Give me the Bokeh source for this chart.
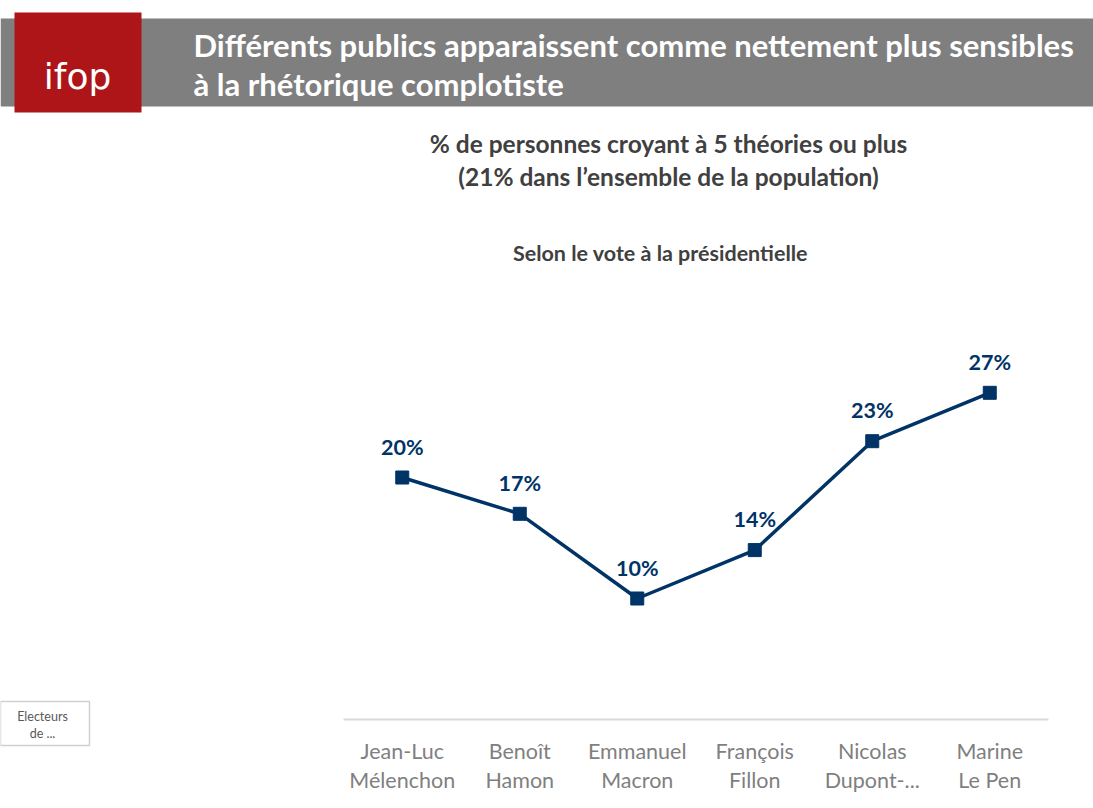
from bokeh.plotting import figure
from bokeh.models import Range1d, FactorRange
from bokeh.layouts import column, row
from bokeh.core.properties import value
from bokeh.embed import file_html
from bokeh.resources import INLINE

# ---- data ----
categories = ["Jean-Luc\nMélenchon", "Benoît\nHamon", "Emmanuel\nMacron",
              "François\nFillon", "Nicolas\nDupont-...", "Marine\nLe Pen"]
values = [20, 17, 10, 14, 23, 27]
value_labels = ["20%", "17%", "10%", "14%", "23%", "27%"]

title_lines = ["Différents publics apparaissent comme nettement plus sensibles",
               "à la rhétorique complotiste"]
subtitle_lines = ["% de personnes croyant à 5 théories ou plus",
                  "(21% dans l’ensemble de la population)"]
section_title = "Selon le vote à la présidentielle"
box_lines = ["Electeurs", "de ..."]

NAVY = "#003366"
FONT = "Lato"
W, H = 1093, 808
HEAD_H = 290
LEFT_W = 343


def blank(width, height):
    f = figure(width=width, height=height, output_backend="svg", toolbar_location=None,
               x_range=Range1d(0, width), y_range=Range1d(height, 0),
               x_axis_location=None, y_axis_location=None, min_border=0)
    f.outline_line_color = None
    f.xgrid.visible = False
    f.ygrid.visible = False
    f.background_fill_color = "white"
    f.border_fill_color = "white"
    return f


# ---- header ----
head = blank(W, HEAD_H)
head.quad(left=[0], right=[W], top=[18], bottom=[106], fill_color="#7f7f7f", line_color=None)
head.quad(left=[14], right=[141], top=[12], bottom=[112], fill_color="#ad1518", line_color=None)
head.text([77], [76], text=["ifop"], text_align="center", text_baseline="alphabetic",
          text_color="white", text_font=value("DejaVu Sans ExtraLight, DejaVu Sans"),
          text_font_size="36px")
head.text([193, 193], [44, 83], text=title_lines, text_align="left", text_baseline="middle",
          text_color="white", text_font=value(FONT), text_font_style="bold",
          text_font_size="31px")
head.text([668, 668], [143, 176], text=subtitle_lines, text_align="center",
          text_baseline="middle", text_color="#404040", text_font=value(FONT),
          text_font_style="bold", text_font_size="24.5px")
head.text([660], [252], text=[section_title], text_align="center", text_baseline="middle",
          text_color="#404040", text_font=value(FONT), text_font_style="bold",
          text_font_size="21.5px")

# ---- left panel ----
left = blank(LEFT_W, H - HEAD_H)
try:
    left.frame_align = False
except Exception:
    pass
left.quad(left=[0], right=[89], top=[701 - HEAD_H], bottom=[745 - HEAD_H],
          fill_color="white", line_color="#d0d0d0", line_width=1.5)
left.text([42, 42], [716 - HEAD_H, 733 - HEAD_H], text=box_lines, text_align="center",
          text_baseline="middle", text_color="#595959", text_font=value(FONT),
          text_font_size="12.5px")

# ---- chart ----
CW = W - LEFT_W
CH = H - HEAD_H
p = figure(width=CW, height=CH, output_backend="svg", toolbar_location=None,
           x_range=FactorRange(*categories, range_padding=0),
           y_range=Range1d(0, 419 / 12.1), y_axis_location=None,
           min_border_left=0, min_border_right=CW - 705,
           min_border_top=10, min_border_bottom=CH - 429)
p.outline_line_color = None
p.xgrid.visible = False
p.ygrid.visible = False
p.background_fill_color = "white"
p.border_fill_color = "white"

ax = p.xaxis[0]
ax.axis_line_color = "#d9d9d9"
ax.axis_line_width = 2
ax.major_tick_line_color = None
ax.minor_tick_line_color = None
ax.major_label_text_font = FONT
ax.major_label_text_font_size = "21.5px"
ax.major_label_text_color = "#7f7f7f"
ax.major_label_text_line_height = 1.12
ax.major_label_standoff = 12

p.line(categories, values, line_color=NAVY, line_width=3.5)
p.scatter(categories, values, marker="square", size=13, fill_color=NAVY, line_color=NAVY)
p.text(categories, values, text=value_labels, y_offset=-18, text_align="center",
       text_baseline="bottom", text_font=value(FONT), text_font_style="bold",
       text_font_size="21.5px", text_color=NAVY)

layout = column(head, row(left, p, spacing=0), spacing=0)
open("out.html", "w").write(file_html(layout, INLINE))
